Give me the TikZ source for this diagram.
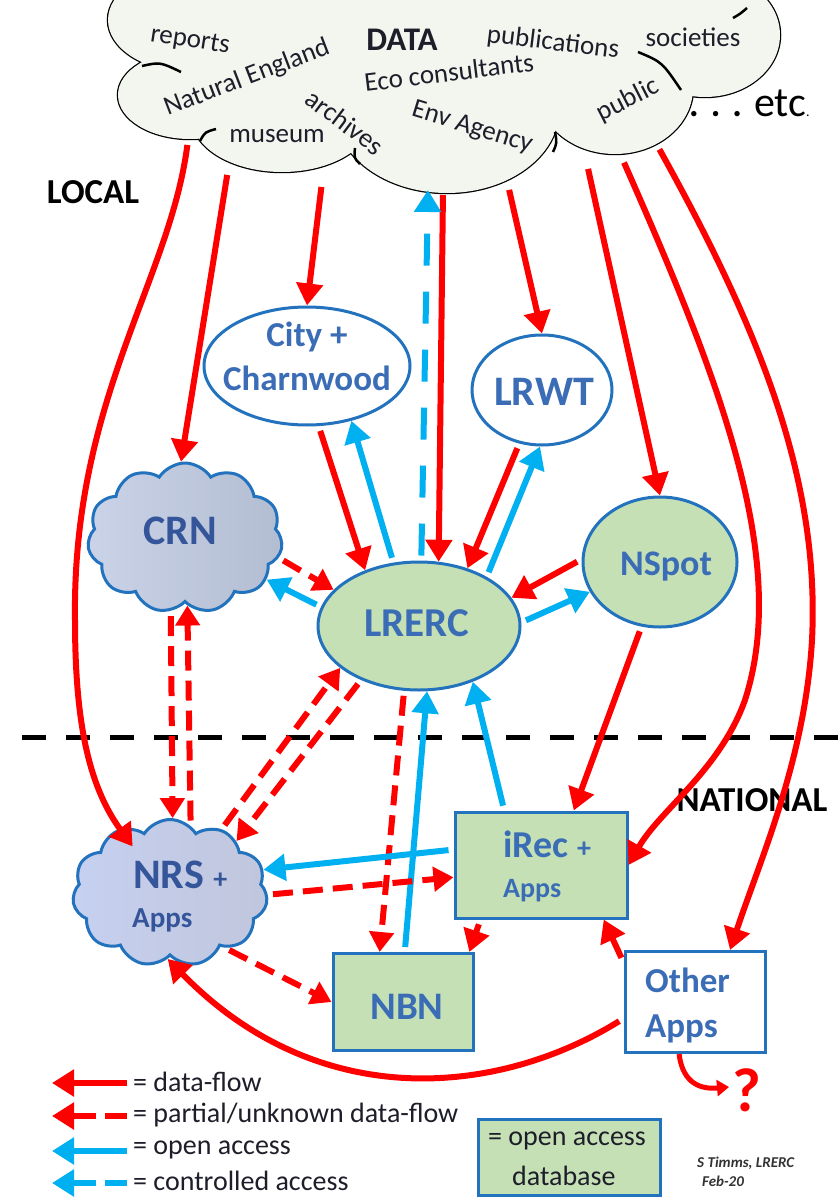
\documentclass[tikz,border=0pt]{standalone}
\usepackage{fontspec}
\setmainfont{Carlito}
\usetikzlibrary{arrows.meta,shapes.geometric,shapes.symbols,calc}
\definecolor{redc}{HTML}{FF0000}
\definecolor{bluec}{HTML}{00B0F0}
\definecolor{nodeblue}{HTML}{2272BE}
\definecolor{txtblue}{HTML}{3A6DB5}
\definecolor{crntxt}{HTML}{35559A}
\definecolor{nodegreen}{HTML}{C5E0B4}
\definecolor{datafill}{HTML}{F2F6EF}
\definecolor{datatxt}{HTML}{1E1E2A}
\definecolor{crnA}{HTML}{CAD3E7}
\definecolor{crnB}{HTML}{B3BDD1}
\definecolor{nrsA}{HTML}{C6D0F0}
\definecolor{nrsB}{HTML}{C0C6DC}
\definecolor{sigc}{HTML}{333333}
\newcommand\fsz[1]{\fontsize{#1}{#1}\selectfont}
\begin{document}
\begin{tikzpicture}[x=1pt,y=-1pt,
  rf/.style={draw=redc, line width=6pt, -{Triangle[length=22pt,width=26pt]}, shorten <=5pt},
  rd/.style={draw=redc, line width=6pt, dash pattern=on 20pt off 10pt, -{Triangle[length=20pt,width=24pt]}, shorten <=5pt},
  bf/.style={draw=bluec, line width=6pt, -{Triangle[length=22pt,width=26pt]}, shorten <=5pt},
  bd/.style={draw=bluec, line width=6pt, dash pattern=on 32pt off 26pt, -{Triangle[length=22pt,width=26pt]}, shorten <=5pt},
  ebox/.style={ellipse, draw=nodeblue, line width=3pt, inner sep=0pt},
  rbox/.style={rectangle, draw=nodeblue, line width=3pt, inner sep=0pt},
  cbox/.style={cloud, cloud puffs=11, cloud puff arc=115, cloud ignores aspect, draw=nodeblue, line width=3pt, inner sep=0pt},
  ntxt/.style={text=txtblue, inner sep=0pt, align=center},
  ctxt/.style={text=crntxt, inner sep=0pt},
  dtxt/.style={text=datatxt, inner sep=0pt, font=\fsz{27}},
  ltxt/.style={text=datatxt, inner sep=0pt, anchor=west, font=\fsz{28}},
  cloudline/.style={draw=black, line width=2.5pt}
]
\clip (0,0) rectangle (839,1198);
\fill[white] (0,0) rectangle (839,1198);

% ---------- DATA cloud ----------
\foreach \cx/\cy/\rx/\ry in {190/20/82/52, 190/95/72/44, 282/118/90/54, 447/110/112/83, 615/88/78/66, 705/35/75/62, 445/15/300/75}
  \draw[cloudline] (\cx,\cy) ellipse [x radius=\rx, y radius=\ry];
\foreach \cx/\cy/\rx/\ry in {190/20/82/52, 190/95/72/44, 282/118/90/54, 447/110/112/83, 615/88/78/66, 705/35/75/62, 445/15/300/75}
  \fill[datafill] (\cx,\cy) ellipse [x radius=\rx, y radius=\ry];
\draw[cloudline] (142,66) .. controls (160,62) .. (181,72);
\draw[cloudline] (200,141) .. controls (205,132) .. (216,129);
\draw[cloudline] (360,164) .. controls (354,158) .. (355,148);
\draw[cloudline] (553,152) .. controls (557,143) .. (555,132);
\draw[cloudline] (638,52) .. controls (662,62) .. (681,90);
\draw[cloudline] (733,18) .. controls (740,14) .. (747,8);

\node[dtxt, rotate=-9] (t-rep) at (190,41) {reports};
\node[dtxt, rotate=21] (t-ne) at (247,78) {Natural England};
\node[text=datatxt, inner sep=0pt, font=\bfseries\fsz{33}] (t-data) at (402,40) {DATA};
\node[dtxt, rotate=-7] (t-pub) at (553,43) {publications};
\node[dtxt] (t-soc) at (693,37) {societies};
\node[dtxt, rotate=7] (t-eco) at (449,72) {Eco consultants};
\node[dtxt, rotate=-37] (t-arc) at (345,122) {archives};
\node[dtxt, rotate=-17] (t-env) at (472,128) {Env Agency};
\node[dtxt] (t-mus) at (277,136) {museum};
\node[dtxt, rotate=27] (t-publ) at (628,100) {public};
\node[text=black, inner sep=0pt, anchor=base west] (t-etc) at (689,117) {{\fsz{36}\textbf{.\,\,.\,\,.\,\,}}{\fsz{42}etc}{\fsz{14}.}};

% cloud exit points
\coordinate (d1) at (188,140);
\coordinate (d2) at (228,170);
\coordinate (d3) at (322,182);
\coordinate (d4) at (428,190);
\coordinate (d5) at (443,190);
\coordinate (d6) at (508,185);
\coordinate (d7) at (587,164);
\coordinate (d8) at (622,158);
\coordinate (d9) at (657,145);

% ---------- labels ----------
\node[text=black, inner sep=0pt, font=\bfseries\fsz{35}] (local) at (93,192) {LOCAL};
\node[text=black, inner sep=0pt, font=\bfseries\fsz{35}] (national) at (752,800) {NATIONAL};
\coordinate (dl) at (22,737);
\coordinate (dr) at (845,737);
\draw[black, line width=5pt, dash pattern=on 24pt off 20pt] (dl) -- (dr);

% ---------- nodes ----------
\node[ebox, fill=white, minimum width=206pt, minimum height=118pt] (city) at (307,366) {};
\node[ntxt, font=\bfseries\fontsize{35}{44}\selectfont] (city-t) at (307,356) {City +\\Charnwood};
\node[ebox, fill=white, minimum width=140pt, minimum height=110pt] (lrwt) at (542,390) {};
\node[ntxt, font=\bfseries\fsz{42}] (lrwt-t) at (544,392) {LRWT};
\node[ebox, fill=nodegreen, minimum width=202pt, minimum height=128pt] (lrerc) at (419,626) {};
\node[ntxt, font=\bfseries\fsz{41}] (lrerc-t) at (417,623) {LRERC};
\node[ebox, fill=nodegreen, minimum width=154pt, minimum height=130pt] (nspot) at (660,562) {};
\node[ntxt, font=\bfseries\fsz{36}] (nspot-t) at (666,567) {NSpot};
\node[cbox, left color=crnA, right color=crnB, minimum width=195pt, minimum height=150pt] (crn) at (185,538) {};
\node[ctxt, font=\bfseries\fsz{42}] (crn-t) at (180,531) {CRN};
\node[cbox, left color=nrsA, right color=nrsB, minimum width=195pt, minimum height=147pt] (nrs) at (170,893) {};
\node[ctxt, anchor=base west, font=\bfseries\fsz{42}] (nrs-t) at (133,888) {NRS {\fsz{28}+}};
\node[ctxt, anchor=base west, font=\bfseries\fsz{29}] (nrs-a) at (132,927) {Apps};
\node[rbox, fill=nodegreen, minimum width=172pt, minimum height=106pt] (irec) at (541,865) {};
\node[ntxt, anchor=base west, font=\bfseries\fsz{38}] (irec-t) at (503,857) {iRec {\fsz{28}+}};
\node[ntxt, anchor=base west, font=\bfseries\fsz{28}] (irec-a) at (503,897) {Apps};
\node[rbox, fill=nodegreen, minimum width=140pt, minimum height=97pt] (nbn) at (403,1002) {};
\node[ntxt, font=\bfseries\fsz{39}] (nbn-t) at (407,1007) {NBN};
\node[rbox, fill=white, minimum width=140pt, minimum height=101pt] (other) at (695,1002) {};
\node[ntxt, anchor=base west, font=\bfseries\fsz{35}] (other-t) at (645,992) {Other};
\node[ntxt, anchor=base west, font=\bfseries\fsz{35}] (other-a) at (645,1037) {Apps};

% ---------- arrows from DATA ----------
\draw[rf, shorten >=-22pt] (d1) .. controls (170,280) and (72,400) .. (75,620) .. controls (75,720) and (88,785) .. (nrs.128);
\draw[rf] (d2) -- (crn.93);
\draw[rf] (d3) -- (city.90);
\draw[rf] (d5) -- (lrerc.73);
\draw[bd] (lrerc.88) -- (d4);
\draw[rf] (d6) -- (lrwt.90);
\draw[rf] (d7) -- (nspot.90);
\draw[rf] (d8) .. controls (720,380) and (790,560) .. (745,700) .. controls (720,770) and (660,810) .. (irec.east);
\draw[rf] (d9) .. controls (760,330) and (820,480) .. (812,640) .. controls (805,760) and (760,860) .. (other.56);

% ---------- local arrows ----------
\draw[rf] (city.281) -- (lrerc.134);
\draw[bf] (lrerc.112) -- (city.309);
\draw[rf] (lrwt.247) -- (lrerc.50);
\draw[bf] (lrerc.36) -- (lrwt.268);
\draw[rf] (nspot.178) -- (lrerc.17);
\draw[bf] (lrerc.2) -- (nspot.203);
\draw[rd] (crn.348) -- (lrerc.157);
\draw[bf] (lrerc.169) -- (crn.333);
\draw[rd] (crn.259) -- (nrs.88);
\draw[rd] (nrs.73) -- (crn.272);
\draw[rd] (nrs.51) -- (lrerc.208);
\draw[rd] (lrerc.223) -- (nrs.38);
\draw[rd] (lrerc.257) -- (nbn.115);
\draw[bf] (nbn.88) -- (lrerc.277);
\draw[bf] (irec.124) -- (lrerc.314);
\draw[rf] (nspot.254) -- (irec.59);
\draw[bf] (irec.170) -- (nrs.14);
\draw[rd] (nrs.359) -- (irec.188);
\draw[rf] (irec.222) -- (nbn.37);
\draw[rf] (other.151) -- (irec.319);
\draw[rd] (nrs.315) -- (nbn.west);
\draw[rf] (other.193.5) .. controls (500,1095) and (320,1115) .. (nrs.268);
\coordinate (q) at (729,1087);
\draw[draw=redc, line width=5pt, -{Triangle[length=12pt,width=16pt]}] (other.253) .. controls (682,1078) and (695,1090) .. (q);
\node[text=redc, inner sep=0pt, font=\bfseries\fsz{62}] (qm) at (747,1090) {?};

% ---------- legend ----------
\coordinate (la1) at (127,1083); \coordinate (lb1) at (52,1083);
\coordinate (la2) at (127,1116); \coordinate (lb2) at (52,1116);
\coordinate (la3) at (127,1151); \coordinate (lb3) at (52,1151);
\coordinate (la4) at (127,1183); \coordinate (lb4) at (52,1183);
\draw[rf, shorten <=0pt] (la1) -- (lb1);
\draw[draw=redc, line width=6pt, dash pattern=on 22pt off 9pt, -{Triangle[length=22pt,width=26pt]}] (la2) -- (lb2);
\draw[bf, shorten <=0pt] (la3) -- (lb3);
\draw[draw=bluec, line width=6pt, dash pattern=on 22pt off 9pt, -{Triangle[length=22pt,width=26pt]}] (la4) -- (lb4);
\node[ltxt] (l1) at (133,1082) {= data-flow};
\node[ltxt] (l2) at (133,1115) {= partial/unknown data-flow};
\node[ltxt] (l3) at (133,1150) {= open access};
\node[ltxt] (l4) at (133,1181) {= controlled access};
\node[rbox, fill=nodegreen, minimum width=182pt, minimum height=76pt] (legbox) at (569,1157) {};
\node[ltxt] (lb-t) at (488,1141) {= open access};
\node[ltxt] (lb-a) at (512,1176) {database};
\node[text=sigc, inner sep=0pt, anchor=west, font=\bfseries\itshape\fsz{15}] (sig1) at (697,1163) {S Timms, LRERC};
\node[text=sigc, inner sep=0pt, anchor=west, font=\bfseries\itshape\fsz{15}] (sig2) at (702,1181) {Feb-20};
\end{tikzpicture}
\end{document}
